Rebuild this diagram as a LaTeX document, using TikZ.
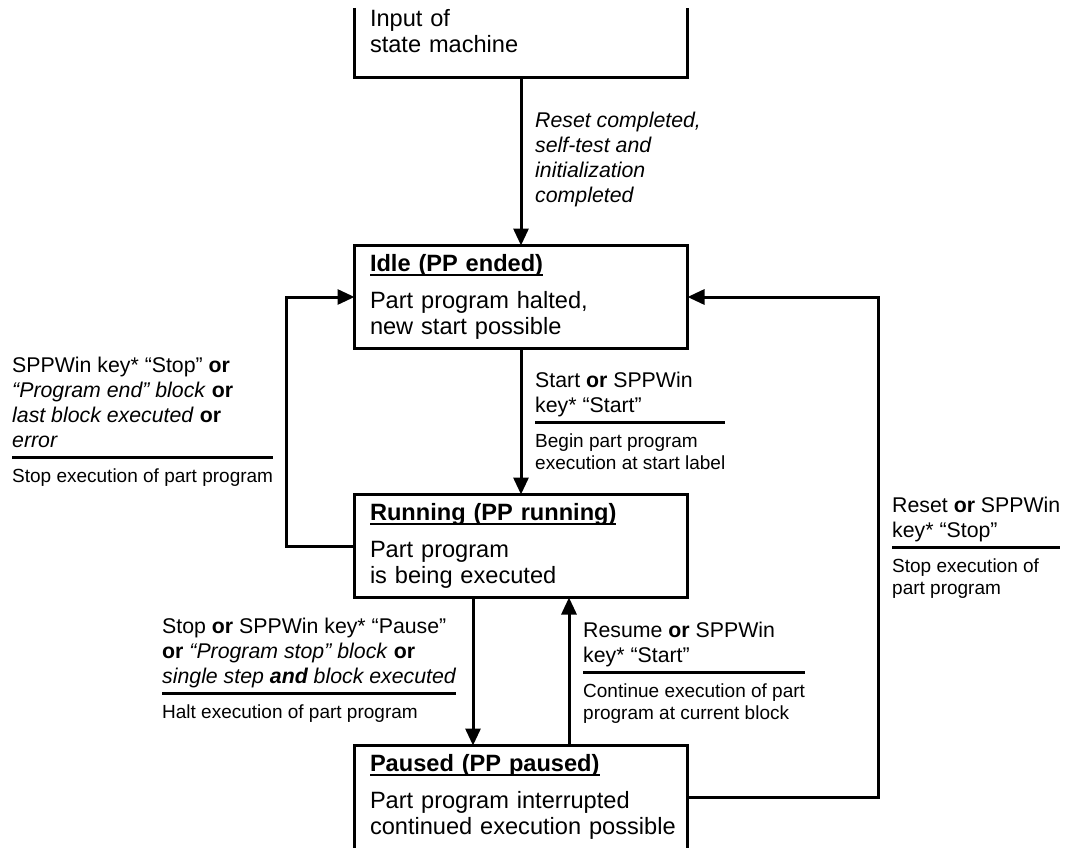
\documentclass[tikz,border=0pt]{standalone}
\usepackage{fontspec}
\setmainfont{Liberation Sans}
\usetikzlibrary{arrows.meta}

\setlength{\arrayrulewidth}{3pt}
\newcommand{\boxfont}{\fontsize{23.6}{26}\selectfont}
\newcommand{\lblfont}{\fontsize{21.3}{25}\selectfont}
\newcommand{\actfont}{\fontsize{19}{22}\selectfont}
\newcommand{\statetitle}[1]{\setbox0\hbox{\bfseries #1}\rlap{\rule[-4.7pt]{\wd0}{2pt}}\box0}

\tikzset{
  statebox/.style={rectangle, draw, line width=3pt, outer sep=0pt, minimum width=333pt,
    minimum height=103pt, text width=302pt, inner xsep=15.5pt, inner ysep=0pt,
    align=left, font=\boxfont},
  openbox/.style={statebox, draw=none},
  boxside/.style={line width=3pt},
  arr/.style={line width=3pt, -{Triangle[length=17pt,width=15pt]}},
  translbl/.style={inner sep=0pt, anchor=base west, font=\lblfont}
}

\begin{document}
\begin{tikzpicture}[x=1pt,y=-1pt]
        \useasboundingbox (0,0) rectangle (1071,848);

        \node[openbox, minimum height=93pt] (input) at (521,31) {Input of\\ state machine};
        \node[statebox] (idle) at (521,297) {\statetitle{Idle (PP ended)}\\[11pt] Part program halted,\\ new start possible};
        \node[statebox] (running) at (521,546) {\statetitle{Running (PP running)}\\[11pt] Part program\\ is being executed};
        \node[openbox] (paused) at (521,797) {\statetitle{Paused (PP paused)}\\[11pt] Part program interrupted\\ \mbox{continued execution possible}};

        \coordinate (cut) at (0,8);
        \coordinate (lcol) at (286,297);
        \coordinate (rcol) at (878,297);

        \draw[boxside] (input.south west |- cut) -- (input.south west) -- (input.south east) -- (input.south east |- cut);
        \draw[boxside] (paused.south west) -- (paused.north west) -- (paused.north east) -- (paused.south east);

        \draw[arr] (input) -- (idle);
        \draw[arr] (idle) -- (running);
        \draw[arr] ([xshift=-48pt]running.south) -- ([xshift=-48pt]paused.north);
        \draw[arr] ([xshift=48pt]paused.north) -- ([xshift=48pt]running.south);
        \draw[arr] (running.west) -| (lcol) -- (idle.west);
        \draw[arr] (paused.east) -| (rcol) -- (idle.east);

        \node[translbl, font=\lblfont\itshape] (initlbl) at (535,128) {\begin{tabular}[t]{@{}l@{}}
            Reset completed,\\
            self-test and\\
            initialization\\
            completed
          \end{tabular}};

        \node[translbl] (startlbl) at (535,387) {\begin{tabular}[t]{@{}l@{}}
            Start \textbf{or} SPPWin\\
            key* “Start”\\[1pt]\hline
            \actfont\rule{0pt}{24pt}Begin part program\\[-3pt]
            \actfont execution at start label
          \end{tabular}};

        \node[translbl] (endlbl) at (12,372) {\begin{tabular}[t]{@{}l@{}}
            SPPWin key* “Stop” \textbf{or}\\
            \textit{“Program end” block} \textbf{or}\\
            \textit{last block executed} \textbf{or}\\
            \textit{error}\\[1pt]\hline
            \actfont\rule{0pt}{24pt}Stop execution of part program
          \end{tabular}};

        \node[translbl] (pauselbl) at (162,633) {\begin{tabular}[t]{@{}l@{}}
            Stop \textbf{or} SPPWin key* “Pause”\\
            \textbf{or} \textit{“Program stop” block} \textbf{or}\\
            \textit{single step \textbf{and} block executed}\\[1pt]\hline
            \actfont\rule{0pt}{24pt}Halt execution of part program
          \end{tabular}};

        \node[translbl] (resumelbl) at (583,637) {\begin{tabular}[t]{@{}l@{}}
            Resume \textbf{or} SPPWin\\
            key* “Start”\\[1pt]\hline
            \actfont\rule{0pt}{24pt}Continue execution of part\\[-3pt]
            \actfont program at current block
          \end{tabular}};

        \node[translbl] (resetlbl) at (892,512) {\begin{tabular}[t]{@{}l@{}}
            Reset \textbf{or} SPPWin\\
            key* “Stop”\\[1pt]\hline
            \actfont\rule{0pt}{24pt}Stop execution of\\[-3pt]
            \actfont part program
          \end{tabular}};
\end{tikzpicture}
\end{document}
